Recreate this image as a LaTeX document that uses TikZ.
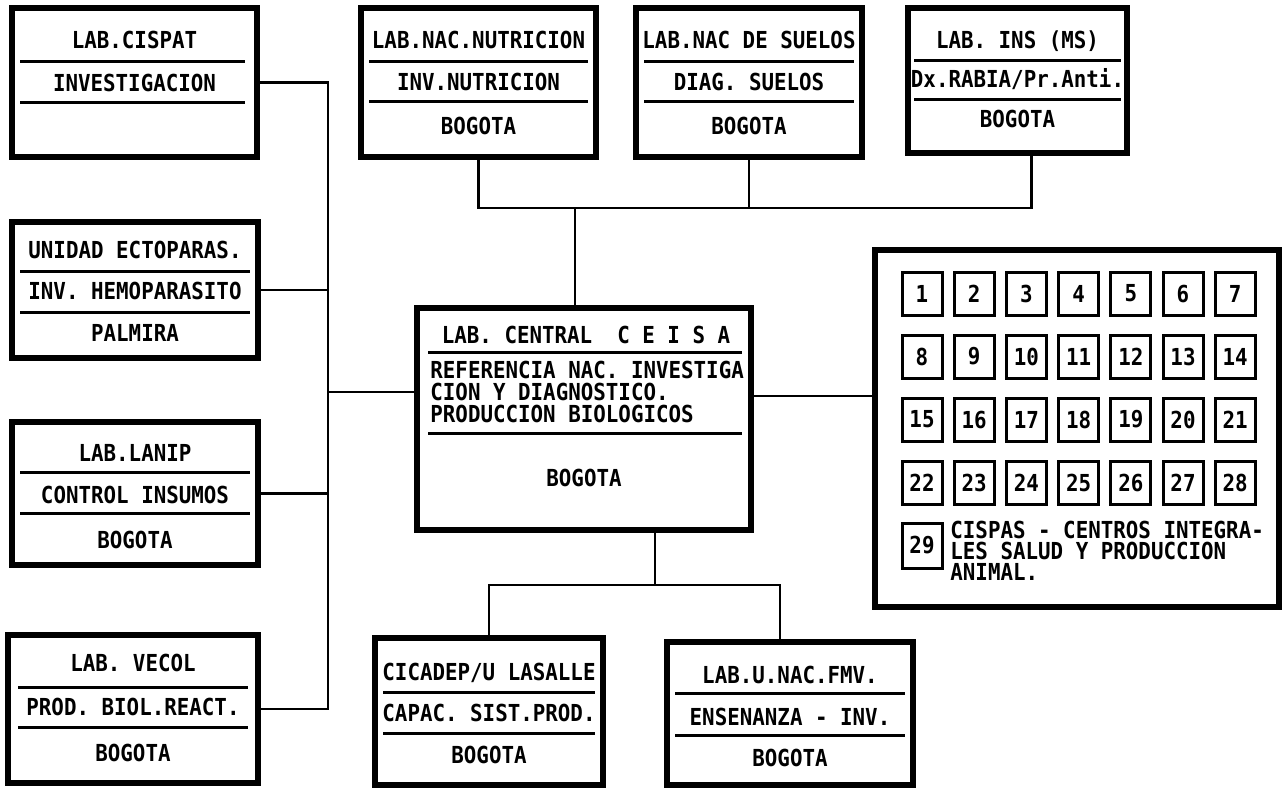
\documentclass[tikz,border=0pt]{standalone}
\usepackage{fontspec}
\usepackage{graphicx}
\newfontfamily\dmono{DejaVu Sans Mono Bold}
\newcommand\tx[1]{\scalebox{0.89}[1]{\dmono\fontsize{11.7}{11.7}\selectfont\frenchspacing #1}}
\begin{document}
\begin{tikzpicture}[x=0.5pt,y=-0.5pt,
  box/.style={draw, line width=2.6pt, inner sep=0pt},
  sepline/.style={line width=1.5pt},
  link/.style={line width=1.3pt},
  nbox/.style={draw, line width=1.5pt, inner sep=0pt, minimum width=20pt, minimum height=21.5pt},
  txt/.style={inner sep=0pt, anchor=base},
  ltxt/.style={inner sep=0pt, anchor=base west}]
\useasboundingbox (0,0) rectangle (1285,789);

% ---------- left column ----------
\node[box, minimum width=122.5pt, minimum height=74.5pt] (cispat) at (134.5,82.5) {};
\draw[sepline] (20,61) -- (245,61);
\draw[sepline] (20,102) -- (245,102);
\node[txt] (cispat1) at (134.5,48) {\tx{LAB.CISPAT}};
\node[txt] (cispat2) at (134.5,91) {\tx{INVESTIGACION}};

\node[box, minimum width=123pt, minimum height=68pt] (unidad) at (135,290) {};
\draw[sepline] (20,271) -- (250,271);
\draw[sepline] (20,312) -- (250,312);
\node[txt] (unidad1) at (135,258) {\tx{UNIDAD ECTOPARAS.}};
\node[txt] (unidad2) at (135,299) {\tx{INV.\ HEMOPARASITO}};
\node[txt] (unidad3) at (135,341) {\tx{PALMIRA}};

\node[box, minimum width=123pt, minimum height=71.5pt] (lanip) at (135,493.5) {};
\draw[sepline] (20,472) -- (250,472);
\draw[sepline] (20,513) -- (250,513);
\node[txt] (lanip1) at (135,461) {\tx{LAB.LANIP}};
\node[txt] (lanip2) at (135,503) {\tx{CONTROL INSUMOS}};
\node[txt] (lanip3) at (135,548) {\tx{BOGOTA}};

\node[box, minimum width=125pt, minimum height=74pt] (vecol) at (133,709) {};
\draw[sepline] (18,687) -- (248,687);
\draw[sepline] (18,727) -- (248,727);
\node[txt] (vecol1) at (133,671) {\tx{LAB.\ VECOL}};
\node[txt] (vecol2) at (133,715) {\tx{PROD.\ BIOL.REACT.}};
\node[txt] (vecol3) at (133,761) {\tx{BOGOTA}};

% ---------- top row ----------
\node[box, minimum width=117.5pt, minimum height=74.5pt] (nutr) at (478.5,82.5) {};
\draw[sepline] (369,61) -- (588,61);
\draw[sepline] (369,101) -- (588,101);
\node[txt] (nutr1) at (478.5,48) {\tx{LAB.NAC.NUTRICION}};
\node[txt] (nutr2) at (478.5,90) {\tx{INV.NUTRICION}};
\node[txt] (nutr3) at (478.5,134) {\tx{BOGOTA}};

\node[box, minimum width=113pt, minimum height=74.5pt] (suelos) at (749,82.5) {};
\draw[sepline] (644,61) -- (854,61);
\draw[sepline] (644,101) -- (854,101);
\node[txt] (suelos1) at (749,48) {\tx{LAB.NAC DE SUELOS}};
\node[txt] (suelos2) at (749,90) {\tx{DIAG.\ SUELOS}};
\node[txt] (suelos3) at (749,134) {\tx{BOGOTA}};

\node[box, minimum width=109.5pt, minimum height=72.5pt] (ins) at (1017.5,80.5) {};
\draw[sepline] (914,60) -- (1121,60);
\draw[sepline] (914,99) -- (1121,99);
\node[txt] (ins1) at (1017.5,48) {\tx{LAB.\ INS (MS)}};
\node[txt] (ins2) at (1017.5,87) {\tx{Dx.RABIA/Pr.Anti.}};
\node[txt] (ins3) at (1017.5,127) {\tx{BOGOTA}};

% ---------- central ----------
\node[box, minimum width=167pt, minimum height=111pt] (central) at (584,419) {};
\draw[sepline] (428,352) -- (742,352);
\draw[sepline] (428,433) -- (742,433);
\node[txt] (central1) at (586,343) {\tx{LAB.\ CENTRAL\ \ C\ E\ I\ S\ A}};
\node[ltxt] (central2) at (430,378) {\tx{REFERENCIA NAC.\ INVESTIGA}};
\node[ltxt] (central3) at (430,400) {\tx{CION Y DIAGNOSTICO.}};
\node[ltxt] (central4) at (430,422) {\tx{PRODUCCION BIOLOGICOS}};
\node[txt] (central5) at (584,486) {\tx{BOGOTA}};

% ---------- bottom ----------
\node[box, minimum width=114pt, minimum height=73.5pt] (cicadep) at (489,711.5) {};
\draw[sepline] (383,692) -- (595,692);
\draw[sepline] (383,733) -- (595,733);
\node[txt] (cicadep1) at (489,680) {\tx{CICADEP/U LASALLE}};
\node[txt] (cicadep2) at (489,721) {\tx{CAPAC.\ SIST.PROD.}};
\node[txt] (cicadep3) at (489,763) {\tx{BOGOTA}};

\node[box, minimum width=123pt, minimum height=71.5pt] (unac) at (790,713.5) {};
\draw[sepline] (675,693) -- (905,693);
\draw[sepline] (675,735) -- (905,735);
\node[txt] (unac1) at (790,683) {\tx{LAB.U.NAC.FMV.}};
\node[txt] (unac2) at (790,725) {\tx{ENSENANZA - INV.}};
\node[txt] (unac3) at (790,766) {\tx{BOGOTA}};

% ---------- CISPAS panel ----------
\node[box, minimum width=202pt, minimum height=178.5pt] (cispas) at (1077,428.5) {};
\foreach \i in {1,...,28} {
  \pgfmathtruncatemacro\r{div(\i-1,7)}
  \pgfmathtruncatemacro\c{mod(\i-1,7)}
  \node[nbox] (n\i) at ({922+52.2*\c},{293.5+63*\r}) {\tx{\i}};
}
\node[nbox, minimum height=22.5pt] (n29) at (922,545.5) {\tx{29}};
\node[ltxt] (cispas1) at (950,538) {\tx{CISPAS - CENTROS INTEGRA-}};
\node[ltxt] (cispas2) at (950,559) {\tx{LES SALUD Y PRODUCCION}};
\node[ltxt] (cispas3) at (950,580) {\tx{ANIMAL.}};

% ---------- connectors ----------
\coordinate (lbus) at (328,0);
\coordinate (tbus) at (0,208);
\coordinate (bbus) at (0,585);
\draw[link] (cispat.east) -- (cispat.east -| lbus) -- (vecol.east -| lbus) -- (vecol.east);
\draw[link] (unidad.east) -- (unidad.east -| lbus);
\draw[link] (lanip.east) -- (lanip.east -| lbus);
\draw[link] ([yshift=13.5pt]central.west) -- ([yshift=13.5pt]central.west -| lbus);

\draw[link] (nutr.south) -- (nutr.south |- tbus) -- ([xshift=7pt]ins.south |- tbus) -- ([xshift=7pt]ins.south);
\draw[link] (suelos.south) -- (suelos.south |- tbus);
\draw[link] ([xshift=-4.5pt]central.north) -- ([xshift=-4.5pt]central.north |- tbus);

\draw[link] ([yshift=11.5pt]central.east) -- ([yshift=11.5pt]central.east -| cispas.west);

\draw[link] ([xshift=35.5pt]central.south) -- ([xshift=35.5pt]central.south |- bbus);
\draw[link] (cicadep.north) -- (cicadep.north |- bbus) -- ([xshift=-5pt]unac.north |- bbus) -- ([xshift=-5pt]unac.north);
\end{tikzpicture}
\end{document}
